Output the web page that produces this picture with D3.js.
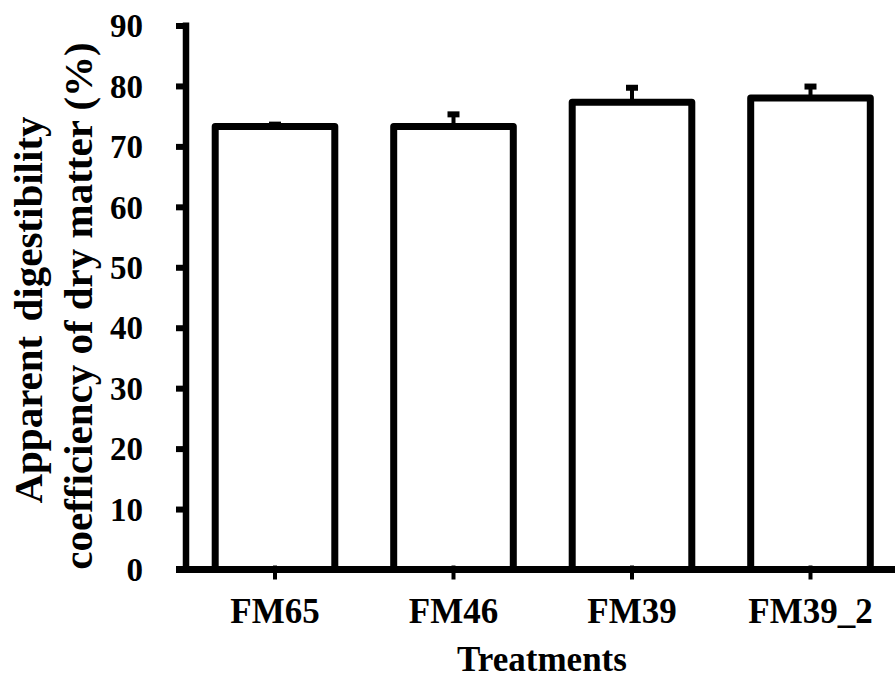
<!DOCTYPE html>
<html lang="en">
<head>
  <meta charset="UTF-8">
  <title>Apparent digestibility of dry matter</title>
  <script src="https://d3js.org/d3.v7.min.js"></script>
  <style>
    body {
      margin: 0;
      padding: 0;
      background: #fff;
    }
    text {
      font-family: "Liberation Serif", "Times New Roman", serif;
      font-weight: bold;
      fill: #000;
    }
  </style>
</head>
<body>
  <div id="chart"></div>
  <script>
    // data
    const treatments = ["FM65", "FM46", "FM39", "FM39_2"];
    const means = [73.3, 73.3, 77.3, 78.0];
    const errors = [0.3, 2.0, 2.4, 1.9];
    const yTicks = [0, 10, 20, 30, 40, 50, 60, 70, 80, 90];

    const width = 895, height = 682;

    const svg = d3.select("#chart")
      .append("svg")
      .attr("width", width)
      .attr("height", height);

    const x = d3.scaleBand()
      .domain(treatments)
      .range([185.75, 899.75])
      .paddingInner(0.33)
      .paddingOuter(0.165);

    const y = d3.scaleLinear()
      .domain([0, 90])
      .range([569.5, 25.5]);

    const rows = treatments.map((t, i) => ({ name: t, mean: means[i], err: errors[i] }));

    // bars
    svg.selectAll(".bar")
      .data(rows)
      .join("rect")
      .attr("class", "bar")
      .attr("x", d => x(d.name))
      .attr("y", d => y(d.mean))
      .attr("width", x.bandwidth())
      .attr("height", d => y(0) - y(d.mean))
      .attr("fill", "#fff")
      .attr("stroke", "#000")
      .attr("stroke-width", 7)
      .attr("stroke-linejoin", "round");

    // error bars (upper only)
    const err = svg.selectAll(".err")
      .data(rows)
      .join("g")
      .attr("class", "err");

    err.append("line")
      .attr("x1", d => x(d.name) + x.bandwidth() / 2)
      .attr("x2", d => x(d.name) + x.bandwidth() / 2)
      .attr("y1", d => y(d.mean))
      .attr("y2", d => y(d.mean + d.err))
      .attr("stroke", "#000")
      .attr("stroke-width", 4);

    err.append("line")
      .attr("x1", d => x(d.name) + x.bandwidth() / 2 - 6)
      .attr("x2", d => x(d.name) + x.bandwidth() / 2 + 6)
      .attr("y1", d => y(d.mean + d.err))
      .attr("y2", d => y(d.mean + d.err))
      .attr("stroke", "#000")
      .attr("stroke-width", 6);

    // y axis
    const yAxis = svg.append("g")
      .attr("transform", "translate(186,0)")
      .call(d3.axisLeft(y).tickValues(yTicks).tickSize(10).tickPadding(33));
    yAxis.select(".domain").remove();
    yAxis.append("line")
      .attr("x1", 0).attr("x2", 0)
      .attr("y1", y(90) - 3).attr("y2", y(0))
      .attr("stroke", "#000")
      .attr("stroke-width", 6.5);
    yAxis.selectAll(".tick line")
      .attr("stroke", "#000")
      .attr("stroke-width", 6);
    yAxis.selectAll(".tick text")
      .style("font-size", "33px")
      .attr("dy", "0.34em");

    // x axis
    const xAxis = svg.append("g")
      .attr("transform", `translate(0,${y(0)})`)
      .call(d3.axisBottom(x).tickSize(10).tickSizeOuter(0).tickPadding(20));
    xAxis.select(".domain").remove();
    xAxis.insert("line", ":first-child")
      .attr("x1", 176).attr("x2", width)
      .attr("y1", 0).attr("y2", 0)
      .attr("stroke", "#000")
      .attr("stroke-width", 7);
    xAxis.selectAll(".tick line")
      .attr("y1", -4)
      .attr("stroke", "#000")
      .attr("stroke-width", 4);
    xAxis.selectAll(".tick text")
      .style("font-size", "35px")
      .attr("dy", 0)
      .attr("y", 53.5);

    // axis titles
    svg.append("text")
      .attr("x", 542)
      .attr("y", 671)
      .attr("text-anchor", "middle")
      .style("font-size", "35px")
      .text("Treatments");

    svg.append("text")
      .attr("transform", "translate(42,310) rotate(-90)")
      .attr("text-anchor", "middle")
      .style("font-size", "41px")
      .style("word-spacing", "4px")
      .text("Apparent digestibility");

    svg.append("text")
      .attr("transform", "translate(92,306) rotate(-90)")
      .attr("text-anchor", "middle")
      .style("font-size", "41px")
      .text("coefficiency of dry matter (%)");
  </script>
</body>
</html>
